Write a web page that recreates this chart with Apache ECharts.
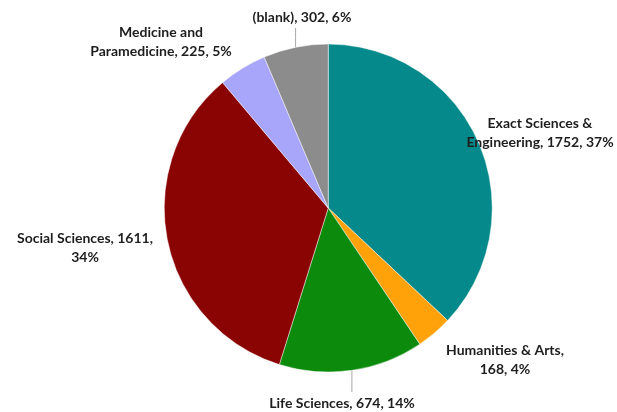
<!DOCTYPE html>
<html>
<head>
<meta charset="utf-8">
<script src="https://cdn.jsdelivr.net/npm/echarts@6/dist/echarts.min.js"></script>
<style>
  html, body { margin: 0; padding: 0; background: #fff; }
  #chart { width: 617px; height: 412px; }
</style>
</head>
<body>
<div id="chart"></div>
<script>
const names = ['Exact Sciences & Engineering', 'Humanities & Arts', 'Life Sciences', 'Social Sciences', 'Medicine and Paramedicine', '(blank)']
const counts = [1752, 168, 674, 1611, 225, 302]
const colors = ['#06898a', '#ffa20a', '#0b8a0b', '#8b0404', '#a8a6fb', '#8c8c8c']

// where each label sits, in pixels of the 617x412 canvas
const labelSpots = [[540, 133], [505, 360], [342, 403], [85, 248], [161, 42], [302, 17]]
const showLine = [false, false, true, false, false, true]

const total = counts.reduce((a, b) => a + b, 0)

function labelText (i) {
  const pct = Math.round(counts[i] / total * 100) + '%'
  if (i === 0) return 'Exact Sciences &\nEngineering, ' + counts[i] + ', ' + pct
  if (i === 1) return 'Humanities & Arts,\n' + counts[i] + ', ' + pct
  if (i === 3) return 'Social Sciences, ' + counts[i] + ',\n' + pct
  if (i === 4) return 'Medicine and\nParamedicine, ' + counts[i] + ', ' + pct
  return names[i] + ', ' + counts[i] + ', ' + pct
}

const chart = echarts.init(document.getElementById('chart'))
chart.setOption({
  animation: false,
  series: [{
    type: 'pie',
    center: ['53.2%', '50.5%'],
    radius: 164,
    startAngle: 90,
    clockwise: true,
    data: names.map((n, i) => ({
      name: n,
      value: counts[i],
      itemStyle: { color: colors[i] },
      labelLine: { show: showLine[i] }
    })),
    itemStyle: {
      borderColor: 'rgba(255,255,255,0.45)',
      borderWidth: 1
    },
    label: {
      show: true,
      position: 'outside',
      formatter: p => labelText(p.dataIndex),
      fontFamily: 'Lato',
      fontWeight: 'bold',
      fontSize: 14,
      lineHeight: 19,
      color: '#1e1e1e',
      align: 'center',
      overflow: 'none'
    },
    labelLine: {
      length: 12,
      length2: 0,
      lineStyle: { color: '#a6a6a6', width: 1 }
    },
    labelLayout: p => {
      const i = p.dataIndex
      const out = {
        x: labelSpots[i][0],
        y: labelSpots[i][1],
        align: 'center',
        verticalAlign: 'middle'
      }
      // straight vertical leader from the slice edge towards the label
      if (showLine[i] && p.labelLinePoints) {
        const a = p.labelLinePoints[0]
        const endY = labelSpots[i][1] + (a[1] > labelSpots[i][1] ? 11 : -11)
        out.labelLinePoints = [[a[0], a[1]], [a[0], (a[1] + endY) / 2], [a[0], endY]]
      }
      return out
    }
  }]
})
</script>
</body>
</html>
